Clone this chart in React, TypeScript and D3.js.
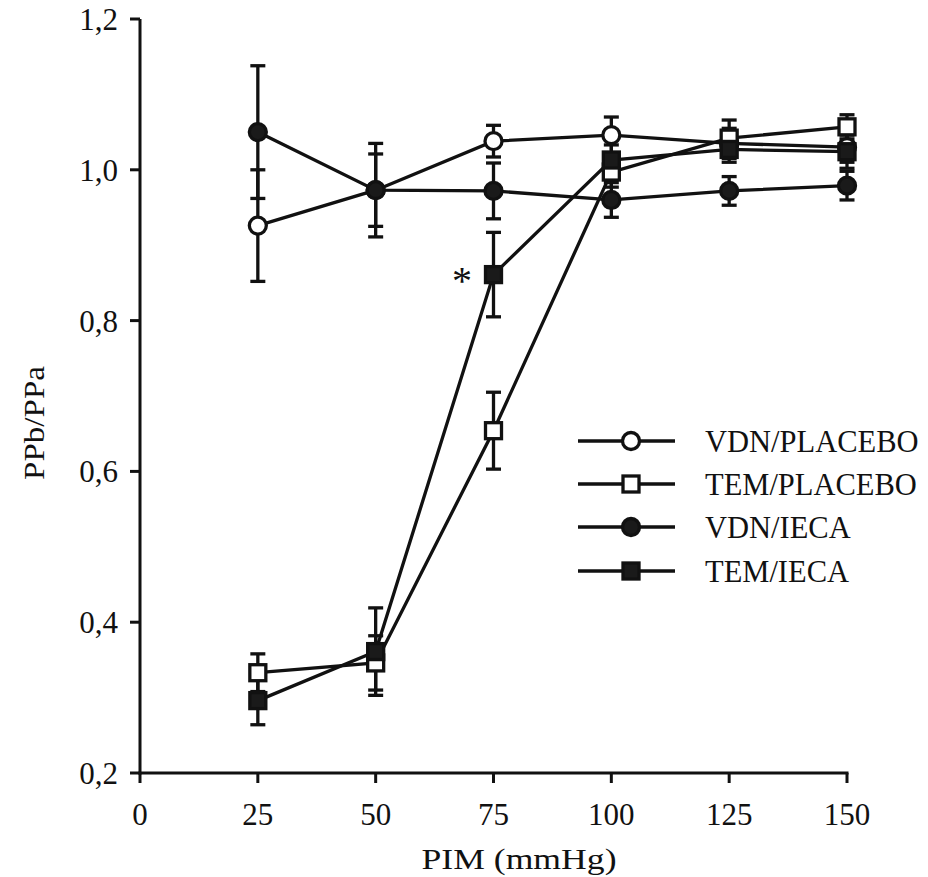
import React from "react";
import * as d3 from "d3";

const pim = [25, 50, 75, 100, 125, 150];
const vdnPlacebo = [0.926, 0.973, 1.038, 1.046, 1.035, 1.03];
const vdnPlaceboErr = [0.074, 0.048, 0.021, 0.024, 0.02, 0.02];
const temPlacebo = [0.333, 0.346, 0.654, 0.997, 1.042, 1.057];
const temPlaceboErr = [0.025, 0.036, 0.051, 0.02, 0.024, 0.016];
const vdnIeca = [1.05, 0.973, 0.972, 0.96, 0.972, 0.979];
const vdnIecaErr = [0.088, 0.062, 0.037, 0.023, 0.019, 0.019];
const temIeca = [0.296, 0.361, 0.861, 1.013, 1.027, 1.024];
const temIecaErr = [0.032, 0.058, 0.056, 0.02, 0.017, 0.022];

const xTicks = [0, 25, 50, 75, 100, 125, 150];
const yTicks = [0.2, 0.4, 0.6, 0.8, 1.0, 1.2];
const seriesNames = ["VDN/PLACEBO", "TEM/PLACEBO", "VDN/IECA", "TEM/IECA"];

const FONT = "'Liberation Serif', 'Times New Roman', serif";
const INK = "#111";
const SW = 3.3;

type Series = { name: string; values: number[]; err: number[]; shape: "circle" | "square"; filled: boolean };

const series: Series[] = [
  { name: seriesNames[0], values: vdnPlacebo, err: vdnPlaceboErr, shape: "circle", filled: false },
  { name: seriesNames[1], values: temPlacebo, err: temPlaceboErr, shape: "square", filled: false },
  { name: seriesNames[2], values: vdnIeca, err: vdnIecaErr, shape: "circle", filled: true },
  { name: seriesNames[3], values: temIeca, err: temIecaErr, shape: "square", filled: true },
];

function Marker({ cx, cy, shape, filled }: { cx: number; cy: number; shape: string; filled: boolean }) {
  const fill = filled ? "#1a1a1a" : "#fff";
  if (shape === "circle") {
    return <circle cx={cx} cy={cy} r={8.5} fill={fill} stroke={INK} strokeWidth={SW} />;
  }
  const s = 16;
  return <rect x={cx - s / 2} y={cy - s / 2} width={s} height={s} fill={fill} stroke={INK} strokeWidth={SW} />;
}

export default function App() {
  const width = 928;
  const height = 877;
  const x = d3.scaleLinear().domain([0, 150]).range([140, 847]);
  const y = d3.scaleLinear().domain([0.2, 1.2]).range([773, 19]);
  const line = d3
    .line<[number, number]>()
    .x((d) => x(d[0]))
    .y((d) => y(d[1]));

  const legendY = [441, 484, 527, 571];

  return (
    <svg width={width} height={height} style={{ position: "absolute", left: 0, top: 0, background: "#fff" }}>
      <rect x={0} y={0} width={width} height={height} fill="#fff" />
      {/* axes */}
      <line x1={x(0)} x2={x(0)} y1={y(1.2)} y2={y(0.2) + 1.5} stroke={INK} strokeWidth={3} />
      <line x1={x(0) - 1.5} x2={x(150) + 1.5} y1={y(0.2)} y2={y(0.2)} stroke={INK} strokeWidth={3} />
      {yTicks.map((t) => (
        <g key={"y" + t}>
          <line x1={x(0) - 10} x2={x(0)} y1={y(t)} y2={y(t)} stroke={INK} strokeWidth={3} />
          <text x={118} y={y(t) + 11} textAnchor="end" fontFamily={FONT} fontSize={31} fill={INK}>
            {d3.format(".1f")(t).replace(".", ",")}
          </text>
        </g>
      ))}
      {xTicks.map((t) => (
        <g key={"x" + t}>
          <line x1={x(t)} x2={x(t)} y1={y(0.2)} y2={y(0.2) + 10} stroke={INK} strokeWidth={3} />
          <text x={x(t)} y={825} textAnchor="middle" fontFamily={FONT} fontSize={31} fill={INK}>
            {t}
          </text>
        </g>
      ))}
      <text x={519} y={869} textAnchor="middle" fontFamily={FONT} fontSize={30} fill={INK} textLength={195} lengthAdjust="spacingAndGlyphs">
        PIM (mmHg)
      </text>
      <text
        transform={`translate(44,423) rotate(-90)`}
        textAnchor="middle"
        fontFamily={FONT}
        fontSize={30}
        fill={INK}
        textLength={114}
        lengthAdjust="spacingAndGlyphs"
      >
        PPb/PPa
      </text>

      {/* lines */}
      {series.map((s) => (
        <path
          key={"l" + s.name}
          d={line(pim.map((p, i) => [p, s.values[i]] as [number, number])) || ""}
          fill="none"
          stroke={INK}
          strokeWidth={SW}
        />
      ))}
      {/* error bars */}
      {series.map((s) =>
        pim.map((p, i) => {
          const cx = x(p);
          const y1 = y(s.values[i] + s.err[i]);
          const y2 = y(s.values[i] - s.err[i]);
          return (
            <g key={"e" + s.name + p}>
              <line x1={cx} x2={cx} y1={y1} y2={y2} stroke={INK} strokeWidth={SW} />
              <line x1={cx - 7.5} x2={cx + 7.5} y1={y1} y2={y1} stroke={INK} strokeWidth={SW} />
              <line x1={cx - 7.5} x2={cx + 7.5} y1={y2} y2={y2} stroke={INK} strokeWidth={SW} />
            </g>
          );
        })
      )}
      {/* markers */}
      {series.map((s) =>
        pim.map((p, i) => (
          <Marker key={"m" + s.name + p} cx={x(p)} cy={y(s.values[i])} shape={s.shape} filled={s.filled} />
        ))
      )}
      {/* significance mark */}
      <text x={462} y={294} textAnchor="middle" fontFamily={FONT} fontSize={40} fill={INK}>
        *
      </text>

      {/* legend */}
      {series.map((s, i) => (
        <g key={"lg" + s.name}>
          <line x1={578} x2={675} y1={legendY[i]} y2={legendY[i]} stroke={INK} strokeWidth={SW} />
          <Marker cx={631} cy={legendY[i]} shape={s.shape} filled={s.filled} />
          <text x={705} y={legendY[i] + 11} fontFamily={FONT} fontSize={30.5} fill={INK}>
            {s.name}
          </text>
        </g>
      ))}
    </svg>
  );
}
